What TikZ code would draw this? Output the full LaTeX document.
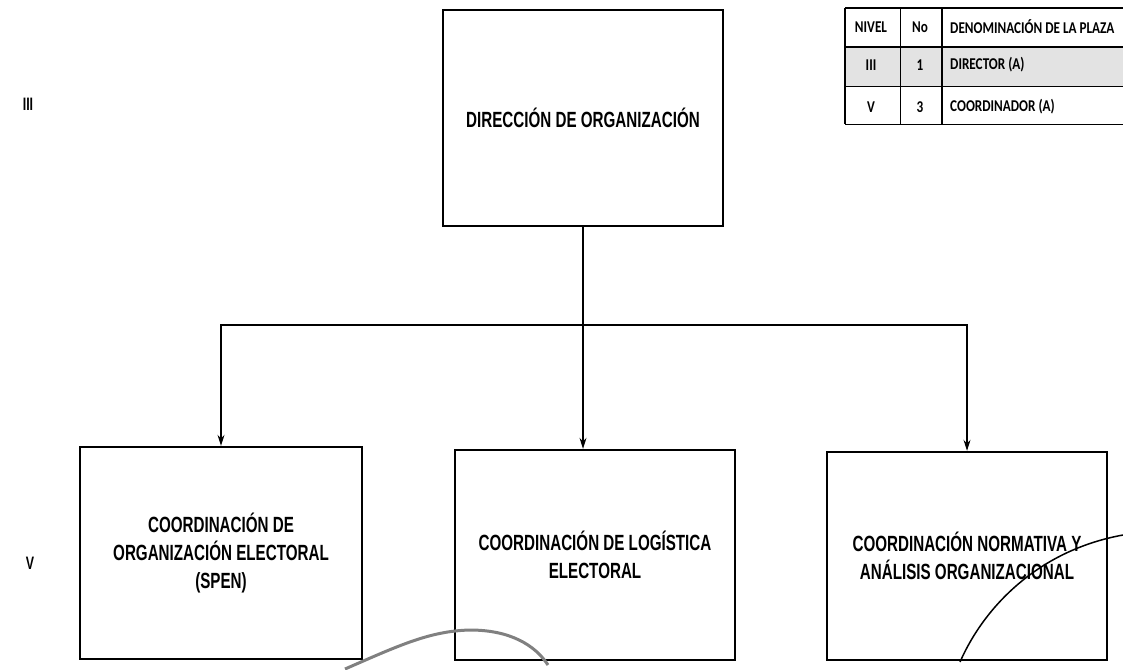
\documentclass[tikz,border=0pt]{standalone}
\usepackage{fontspec}
\usepackage{tikz}
\usetikzlibrary{positioning, arrows.meta}
\setmainfont{Liberation Sans}
\newfontfamily\boxfont{Liberation Sans}[FakeStretch=0.69]
\newfontfamily\tabfont{Carlito}[FakeStretch=0.8]

\tikzset{
    unitbox/.style={draw, line width=2.4pt, minimum width=280pt, minimum height=212pt,
        align=center, font=\boxfont\bfseries\fontsize{22}{28}\selectfont},
    conn/.style={line width=1.2pt, -{Stealth[length=11pt,width=7pt]}},
    tabtxt/.style={font=\tabfont\bfseries\fontsize{16.5}{18}\selectfont, inner sep=0pt},
    lvl/.style={font=\boxfont\bfseries\fontsize{18}{20}\selectfont}
}

\begin{document}
\begin{tikzpicture}[x=1pt, y=-1pt]
    \useasboundingbox (0,0) rectangle (1123,669);

    % niveles
    \node[lvl] (lvIII) at (28,104) {III};
    \node[lvl] (lvV) at (30,563) {V};

    % tabla de plazas
    \begin{scope}
        \fill[gray!22] (845,47) rectangle (1123,86);
        \draw[line width=1.6pt] (845,8) -- (1123,8);
        \draw[line width=1.6pt] (845,47) -- (1123,47);
        \draw[line width=1pt] (845,86) -- (1123,86);
        \draw[line width=1pt] (845,124) -- (1123,124);
        \draw[line width=1.6pt] (845,8) -- (845,124);
        \draw[line width=1pt] (900,8) -- (900,124);
        \draw[line width=1.6pt] (942,8) -- (942,124);

        \node[tabtxt] (hNivel) at (871,27) {NIVEL};
        \node[tabtxt] (hNo) at (920,27) {No};
        \node[tabtxt, anchor=west] (hDen) at (950,27) {DENOMINACIÓN DE LA PLAZA};
        \node[tabtxt] (rNivA) at (871,65) {III};
        \node[tabtxt] (rNoA) at (920,65) {1};
        \node[tabtxt, anchor=west] (rDenA) at (950,65) {DIRECTOR (A)};
        \node[tabtxt] (rNivB) at (871,107) {V};
        \node[tabtxt] (rNoB) at (920,107) {3};
        \node[tabtxt, anchor=west] (rDenB) at (950,107) {COORDINADOR (A)};
    \end{scope}

    % organigrama
    \node[unitbox, minimum height=216pt] (dir) at (583,118) {DIRECCIÓN DE ORGANIZACIÓN};
    \node[unitbox, minimum width=282pt] (org) at (221,553) {COORDINACIÓN DE\\ORGANIZACIÓN ELECTORAL\\(SPEN)};
    \node[unitbox, minimum height=210pt] (log) at (595,555) {COORDINACIÓN DE LOGÍSTICA\\ELECTORAL};
    \node[unitbox, minimum height=208pt] (nor) at (967,556) {COORDINACIÓN NORMATIVA Y\\ANÁLISIS ORGANIZACIONAL};

    \coordinate (bus) at (583,325);
    \draw[conn] (dir.south) -- (dir.south |- log.north);
    \draw[conn] (bus) -| (org.north);
    \draw[conn] (bus) -| (nor.north);

    % trazos a mano
    \draw[gray, line width=3pt] (345,669) .. controls (400,645) and (430,631) .. (470,630)
        .. controls (510,630) and (535,645) .. (548,665);
    \draw[line width=1.5pt] (960,662) .. controls (985,605) and (1040,550) .. (1123,535);
\end{tikzpicture}
\end{document}
